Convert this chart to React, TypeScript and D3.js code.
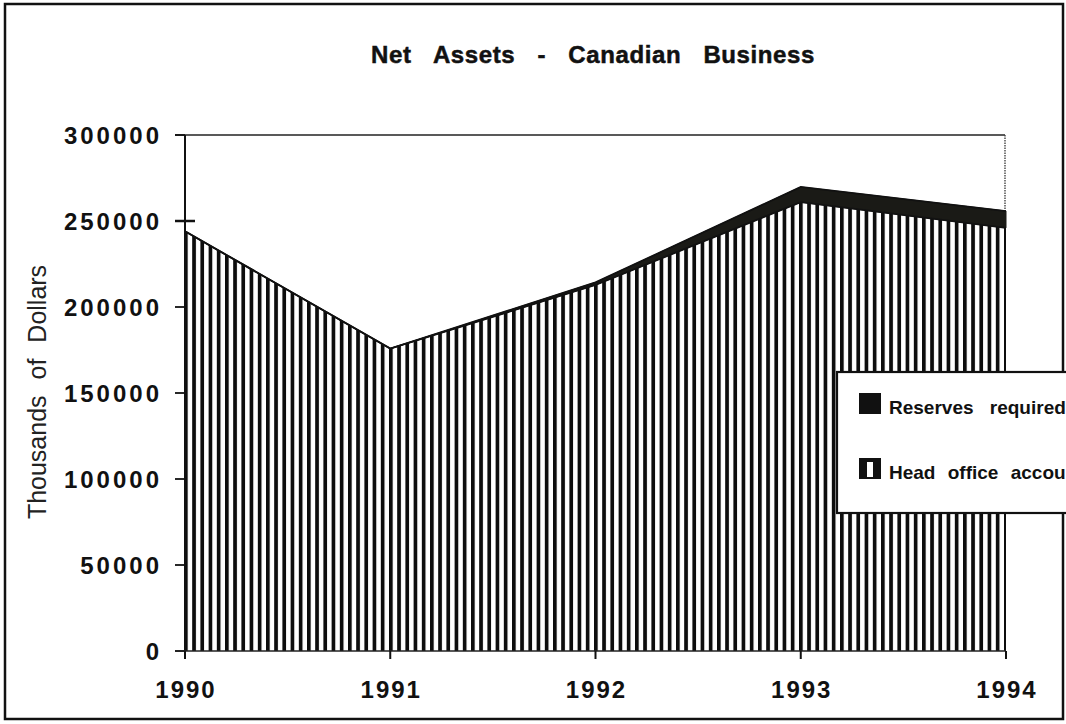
import React from "react";
import * as d3 from "d3";

const years = [1990, 1991, 1992, 1993, 1994];
const headOffice = [244000, 175800, 212800, 261000, 246000];
const reserves = [0, 0, 1500, 8800, 9800];
const yTicks = [0, 50000, 100000, 150000, 200000, 250000, 300000];
const seriesNames = ["Reserves  required", "Head office accounts"];
const title = "Net Assets - Canadian Business";
const yTitle = "Thousands of Dollars";

export default function App() {
  const W = 1066, H = 724;
  const x = d3.scaleLinear().domain([1990, 1994]).range([185, 1006]);
  const y = d3.scaleLinear().domain([0, 300000]).range([651, 135]);
  const rows = years.map((yr, i) => ({ year: yr, head: headOffice[i], reserves: reserves[i] }));
  const stacked = d3.stack<any>().keys(["head", "reserves"])(rows);
  const area = d3.area<any>()
    .x((d) => x(d.data.year))
    .y0((d) => y(d[0]))
    .y1((d) => y(d[1]))
    .curve(d3.curveLinear);
  const topLine = d3.line<any>().x((d) => x(d.data.year)).y((d) => y(d[1]));
  const font = "'Liberation Sans', Arial, Helvetica, sans-serif";

  return (
    <svg width={W} height={H} style={{ position: "fixed", left: 0, top: 0, background: "#fff" }}>
      <defs>
        <pattern id="stripes" patternUnits="userSpaceOnUse" x={184} y={0} width={8.2} height={10}>
          <rect x={0} y={0} width={8.2} height={10} fill="#fff" />
          <rect x={0} y={0} width={3.7} height={10} fill="#0d0d0d" />
        </pattern>
        <clipPath id="legclip">
          <rect x={0} y={0} width={W} height={H} />
        </clipPath>
      </defs>
      <rect x={0} y={0} width={W} height={H} fill="#fff" />
      {/* outer frame */}
      <rect x={5} y={4} width={1058} height={715} fill="none" stroke="#111" strokeWidth={2.5} />

      {/* title */}
      <text x={593} y={63} textAnchor="middle" fontFamily={font} fontWeight="bold" fontSize={24}
        letterSpacing={0.6} wordSpacing={15} fill="#111" stroke="#111" strokeWidth={0.5}>{title}</text>

      {/* plot frame top & right */}
      <line x1={175} x2={1005} y1={135} y2={135} stroke="#222" strokeWidth={1.6} />
      <line x1={1005} x2={1005} y1={135} y2={651} stroke="#444" strokeWidth={1.4} strokeDasharray="1.5,1" />

      {/* areas */}
      <path d={area(stacked[0] as any) || ""} fill="url(#stripes)" />
      <path d={area(stacked[1] as any) || ""} fill="#1a1a16" stroke="#1a1a16" strokeWidth={1} />
      <path d={topLine(stacked[0] as any) || ""} fill="none" stroke="#111" strokeWidth={1.8} />
      <path d={topLine(stacked[1] as any) || ""} fill="none" stroke="#111" strokeWidth={1.8} />

      {/* y axis */}
      <line x1={185} x2={185} y1={135} y2={651} stroke="#111" strokeWidth={2} />
      {yTicks.map((t) => (
        <g key={t}>
          <line x1={175} x2={t === 250000 ? 195 : 185} y1={y(t)} y2={y(t)} stroke="#111" strokeWidth={t === 250000 ? 2.5 : 1.8} />
          <text x={162} y={y(t) + 8.5} textAnchor="end" fontFamily={font} fontWeight="bold" fontSize={24}
            letterSpacing={3} fill="#111">{String(t)}</text>
        </g>
      ))}
      <text transform={`translate(46,392) rotate(-90)`} textAnchor="middle" fontFamily={font} fontSize={25}
        wordSpacing={9} fill="#222">{yTitle}</text>

      {/* x axis */}
      <line x1={175} x2={1006} y1={651} y2={651} stroke="#222" strokeWidth={1.6} />
      {years.map((yr) => (
        <g key={yr}>
          <line x1={x(yr)} x2={x(yr)} y1={651} y2={659} stroke="#111" strokeWidth={2} />
          <text x={x(yr) + 1} y={698} textAnchor="middle" fontFamily={font} fontWeight="bold" fontSize={24}
            letterSpacing={2} fill="#111">{String(yr)}</text>
        </g>
      ))}

      {/* legend */}
      <g clipPath="url(#legclip)">
        <rect x={837} y={372} width={260} height={141} fill="#fff" stroke="#111" strokeWidth={2.2} />
        <rect x={859} y={393} width={22} height={21} fill="#111" />
        <text x={889} y={414} fontFamily={font} fontWeight="bold" fontSize={19} wordSpacing={11} fill="#111">{seriesNames[0]}</text>
        <rect x={859} y={458} width={22} height={21} fill="#111" />
        <rect x={867} y={462} width={6} height={15} fill="#fff" />
        <text x={889} y={479} fontFamily={font} fontWeight="bold" fontSize={19} wordSpacing={7} fill="#111">{seriesNames[1]}</text>
      </g>
    </svg>
  );
}
